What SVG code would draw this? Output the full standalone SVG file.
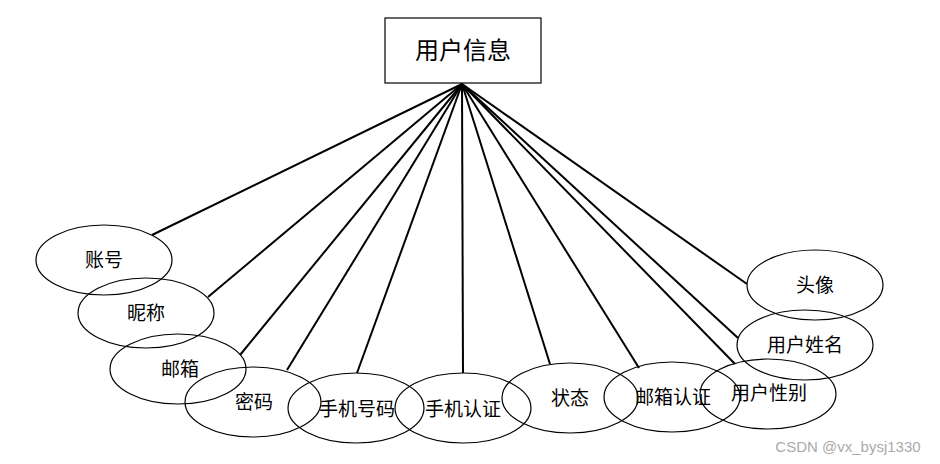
<svg xmlns="http://www.w3.org/2000/svg" width="940" height="464" viewBox="0 0 940 464">
<style>
.e{fill:none;stroke:#000;stroke-width:1.2}
.t{font-family:"Liberation Serif","Noto Sans CJK SC",serif;font-size:19px;fill:#000;text-anchor:middle;dominant-baseline:central}
.c line{stroke:#000;stroke-width:2}
</style>
<rect width="940" height="464" fill="#fff"/>
<g class="c" id="connectors">
<line x1="462" y1="84" x2="152" y2="235"/>
<line x1="462" y1="84" x2="208" y2="297"/>
<line x1="462" y1="84" x2="240" y2="355"/>
<line x1="462" y1="84" x2="287" y2="370"/>
<line x1="462" y1="84" x2="357" y2="373"/>
<line x1="462" y1="84" x2="463" y2="373"/>
<line x1="462" y1="84" x2="550" y2="364"/>
<line x1="462" y1="84" x2="639" y2="368"/>
<line x1="462" y1="84" x2="735" y2="364"/>
<line x1="462" y1="84" x2="738" y2="338"/>
<line x1="462" y1="84" x2="747" y2="284"/>
</g>
<g id="user-info">
<rect x="385" y="18" width="156" height="65" fill="#fff" stroke="#000" stroke-width="1.2"/>
<text class="t" x="463" y="51" style="font-size:24px">用户信息</text>
</g>
<g id="n1"><ellipse class="e" cx="104" cy="260" rx="68" ry="35"/><text class="t" x="104" y="260">账号</text></g>
<g id="n2"><ellipse class="e" cx="146" cy="313" rx="68" ry="35"/><text class="t" x="146" y="313">昵称</text></g>
<g id="n3"><ellipse class="e" cx="178" cy="369" rx="68" ry="35"/><text class="t" x="180" y="369">邮箱</text></g>
<g id="n4"><ellipse class="e" cx="253" cy="402" rx="68" ry="35"/><text class="t" x="254" y="402">密码</text></g>
<g id="n5"><ellipse class="e" cx="356" cy="408" rx="68" ry="35"/><text class="t" x="357" y="409">手机号码</text></g>
<g id="n6"><ellipse class="e" cx="463" cy="408" rx="68" ry="35"/><text class="t" x="463" y="409">手机认证</text></g>
<g id="n7"><ellipse class="e" cx="570" cy="398" rx="68" ry="35"/><text class="t" x="570" y="398">状态</text></g>
<g id="n8"><ellipse class="e" cx="672" cy="397" rx="68" ry="35"/><text class="t" x="673" y="397">邮箱认证</text></g>
<g id="n9"><ellipse class="e" cx="768" cy="394" rx="68" ry="35"/><text class="t" x="769" y="393">用户性别</text></g>
<g id="n10"><ellipse class="e" cx="805" cy="345" rx="68" ry="35"/><text class="t" x="805" y="345">用户姓名</text></g>
<g id="n11"><ellipse class="e" cx="815" cy="285" rx="68" ry="35"/><text class="t" x="815" y="285">头像</text></g>
<text x="848" y="446" style="font-family:'Liberation Sans',sans-serif;font-size:15px;fill:#aaa;text-anchor:middle;dominant-baseline:central">CSDN @vx_bysj1330</text>
</svg>
